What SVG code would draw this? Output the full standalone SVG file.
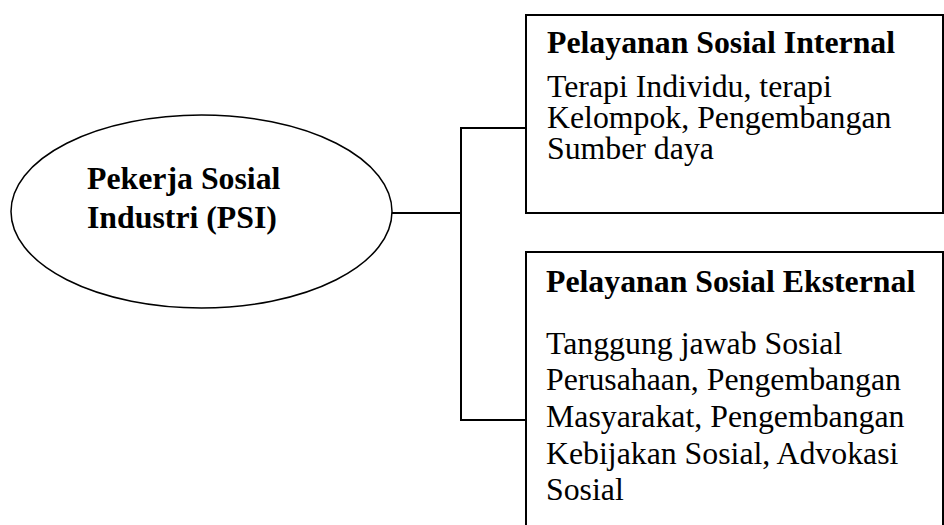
<svg xmlns="http://www.w3.org/2000/svg" width="944" height="525" viewBox="0 0 944 525">
<style>
.t{font-family:"Liberation Serif","Times New Roman",serif;font-size:31.8px;fill:#000}
.b{font-weight:bold}
.box{fill:#fff;stroke:#000;stroke-width:2}
.ln{stroke:#000;stroke-width:2;fill:none}
</style>
<rect width="944" height="525" fill="#fff"/>
<g id="connectors">
<line class="ln" x1="392" y1="213" x2="461" y2="213"/>
<line class="ln" x1="461" y1="127" x2="461" y2="421"/>
<line class="ln" x1="460" y1="128" x2="526" y2="128"/>
<line class="ln" x1="460" y1="420" x2="526" y2="420"/>
</g>
<g id="psi">
<ellipse cx="201.5" cy="211.5" rx="190.5" ry="96.5" fill="#fff" stroke="#000" stroke-width="1.5"/>
<text class="t b" x="87" y="189">Pekerja Sosial</text>
<text class="t b" x="87" y="228">Industri (PSI)</text>
</g>
<g id="internal">
<rect class="box" x="526" y="15" width="417" height="198"/>
<text class="t b" x="547" y="53">Pelayanan Sosial Internal</text>
<text class="t" x="547" y="97">Terapi Individu, terapi</text>
<text class="t" x="547" y="128">Kelompok, Pengembangan</text>
<text class="t" x="547" y="159">Sumber daya</text>
</g>
<g id="eksternal">
<rect class="box" x="526" y="252" width="417" height="300"/>
<text class="t b" x="546" y="292">Pelayanan Sosial Eksternal</text>
<text class="t" x="546" y="353.5">Tanggung jawab Sosial</text>
<text class="t" x="546" y="390">Perusahaan, Pengembangan</text>
<text class="t" x="546" y="427">Masyarakat, Pengembangan</text>
<text class="t" x="546" y="463.5">Kebijakan Sosial, Advokasi</text>
<text class="t" x="546" y="500">Sosial</text>
</g>
</svg>
